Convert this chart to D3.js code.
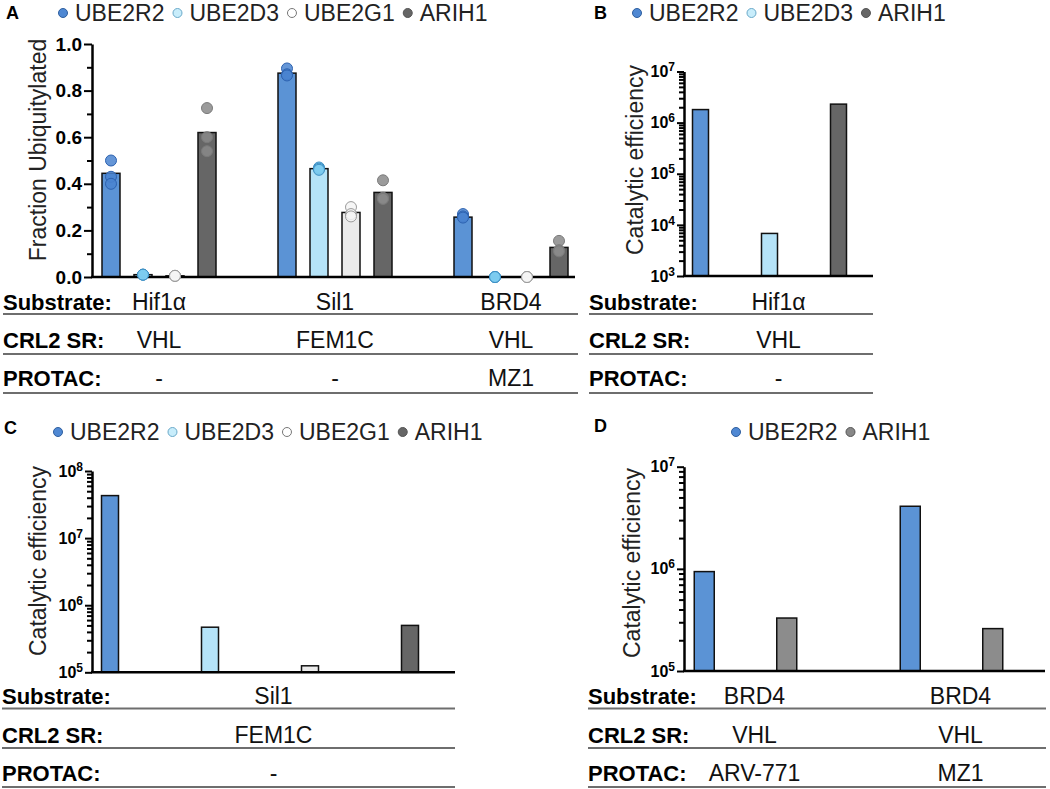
<!DOCTYPE html>
<html>
<head>
<meta charset="utf-8">
<script src="https://cdn.jsdelivr.net/npm/d3@7"></script>
<style>
  body { margin: 0; background: #fff; }
  svg { display: block; font-family: "Liberation Sans", Arial, sans-serif; }
</style>
</head>
<body>
<svg width="1050" height="789"></svg>
<script>
// ---- panel A: fraction ubiquitylated ----
const seriesA = ["UBE2R2", "UBE2D3", "UBE2G1", "ARIH1"];
const substrateA = ["Hif1α", "Sil1", "BRD4"];
const srA = ["VHL", "FEM1C", "VHL"];
const protacA = ["-", "-", "MZ1"];
const meanA = [
  [0.445, 0.01, 0.005, 0.62],
  [0.875, 0.465, 0.277, 0.363],
  [0.257, 0.0, 0.0, 0.127]
];
const repsA = [
  [[0.50, 0.43, 0.40], [0.01, 0.01, 0.01], [0.005, 0.005, 0.005], [0.725, 0.60, 0.54]],
  [[0.895, 0.87, 0.865], [0.47, 0.465, 0.46], [0.30, 0.27, 0.26], [0.415, 0.34, 0.335]],
  [[0.27, 0.26, 0.255], [0, 0, 0], [0, 0, 0], [0.155, 0.115, 0.11]]
];
const yTicksA = [0, 0.2, 0.4, 0.6, 0.8, 1.0];
const yMinorA = [0.1, 0.3, 0.5, 0.7, 0.9];

// ---- panel B ----
const seriesB = ["UBE2R2", "UBE2D3", "ARIH1"];
const effB = [1.8e6, 6.8e3, 2.3e6];
const rowsB = ["Hif1α", "VHL", "-"];
const yTicksB = [1e3, 1e4, 1e5, 1e6, 1e7];

// ---- panel C ----
const seriesC = ["UBE2R2", "UBE2D3", "UBE2G1", "ARIH1"];
const effC = [4.3e7, 4.7e5, 1.25e5, 5.0e5];
const rowsC = ["Sil1", "FEM1C", "-"];
const yTicksC = [1e5, 1e6, 1e7, 1e8];

// ---- panel D ----
const seriesD = ["UBE2R2", "ARIH1"];
const substrateD = ["BRD4", "BRD4"];
const srD = ["VHL", "VHL"];
const protacD = ["ARV-771", "MZ1"];
const effD = [[9.4e5, 3.3e5], [4.1e6, 2.6e5]];
const yTicksD = [1e5, 1e6, 1e7];

const rowLabels = ["Substrate:", "CRL2 SR:", "PROTAC:"];

// colours
const barFill = { UBE2R2: "#5b93d5", UBE2D3: "#b5e3f8", UBE2G1: "#ebebeb", ARIH1: "#666666" };
const dotFill = { UBE2R2: "#4a84d0", UBE2D3: "#7ccbf0", UBE2G1: "#f4f4f4", ARIH1: "#8a8a8a" };
const dotStroke = { UBE2R2: "#2d62b0", UBE2D3: "#3d8fc4", UBE2G1: "#9a9a9a", ARIH1: "#7a7a7a" };
const keyFill = { UBE2R2: "#4f88d3", UBE2D3: "#c8edfb", UBE2G1: "#ffffff", ARIH1: "#666666" };
const keyStroke = { UBE2R2: "#2f5f9f", UBE2D3: "#6aa9c9", UBE2G1: "#777777", ARIH1: "#555555" };

const svg = d3.select("svg");

// small helpers
function panelLetter(x, y, s) {
  svg.append("text").attr("x", x).attr("y", y).attr("dy", "0.35em")
    .attr("font-size", 18).attr("font-weight", "bold").text(s);
}

function legend(x, y, names, fills) {
  let cx = x;
  names.forEach(function (n) {
    svg.append("circle").attr("cx", cx).attr("cy", y).attr("r", 4.5)
      .attr("fill", (fills && fills[n]) || keyFill[n]).attr("stroke", keyStroke[n]).attr("stroke-width", 1);
    const t = svg.append("text").attr("x", cx + 12).attr("y", y).attr("dy", "0.35em")
      .attr("font-size", 23).attr("fill", "#222").text(n);
    cx = cx + 12 + t.node().getComputedTextLength() + 13;
  });
}

function yLabel(x, y, s) {
  svg.append("text").attr("transform", `translate(${x},${y}) rotate(-90)`)
    .attr("text-anchor", "middle").attr("dy", "0.35em")
    .attr("font-size", 23).attr("fill", "#222").text(s);
}

function hline(x0, x1, y, w, c) {
  svg.append("line").attr("x1", x0).attr("x2", x1).attr("y1", y).attr("y2", y)
    .attr("stroke", c).attr("stroke-width", w);
}

function styleAxis(a) {
  a.select(".domain").attr("stroke", "#000").attr("stroke-width", 2.5);
  a.selectAll(".tick line").attr("stroke", "#000").attr("stroke-width", 2);
  a.selectAll(".tick text").attr("fill", "#000").attr("font-weight", "bold")
    .attr("font-family", "Liberation Sans, Arial, sans-serif");
}

function logAxis(scale, x, ticks) {
  const a = svg.append("g").attr("transform", `translate(${x},0)`)
    .call(d3.axisLeft(scale).tickValues(ticks).tickSize(7).tickSizeOuter(0)
      .tickPadding(2).tickFormat(() => ""));
  styleAxis(a);
  a.selectAll(".tick text").attr("font-size", 16).each(function (d) {
    const t = d3.select(this);
    t.append("tspan").text("10");
    t.append("tspan").attr("dy", "-0.5em").attr("font-size", 12).text(Math.round(Math.log10(d)));
  });
  // minor log ticks
  const minor = [];
  for (let i = 0; i < ticks.length - 1; i++) {
    for (let m = 2; m <= 9; m++) minor.push(m * ticks[i]);
  }
  const b = svg.append("g").attr("transform", `translate(${x},0)`)
    .call(d3.axisLeft(scale).tickValues(minor).tickSize(5).tickFormat(() => ""));
  b.select(".domain").remove();
  b.selectAll(".tick line").attr("stroke", "#000").attr("stroke-width", 2);
}

function table(x0, x1, rowY, lineY, cells) {
  rowLabels.forEach(function (lab, i) {
    svg.append("text").attr("x", x0).attr("y", rowY[i]).attr("dy", "0.35em")
      .attr("font-size", 22).attr("font-weight", "bold").text(lab);
    hline(x0, x1, lineY[i], 1.8, "#6e6e6e");
    cells[i].forEach(function (c) {
      svg.append("text").attr("x", c.x).attr("y", rowY[i]).attr("dy", "0.35em")
        .attr("text-anchor", "middle").attr("font-size", 23).attr("fill", "#111").text(c.t);
    });
  });
}

function bar(x, w, y, y0, fill) {
  svg.append("rect").attr("x", x).attr("y", y).attr("width", w).attr("height", Math.max(0, y0 - y))
    .attr("fill", fill).attr("stroke", "#111").attr("stroke-width", 1.5);
}

// ================= Panel A =================
panelLetter(6, 13, "A");
legend(63, 13, seriesA);

const yA = d3.scaleLinear().domain([0, 1]).range([277, 44]);
const gxA = d3.scaleBand().domain(substrateA).range([95, 575]).paddingInner(48 / 176).paddingOuter(0);
const sxA = d3.scaleBand().domain(seriesA).range([0, gxA.bandwidth()]).paddingInner(0.4375).paddingOuter(0.21875);

substrateA.forEach(function (g, gi) {
  seriesA.forEach(function (s, si) {
    bar(gxA(g) + sxA(s), sxA.bandwidth(), yA(meanA[gi][si]), yA(0), barFill[s]);
  });
});

const axA = svg.append("g").attr("transform", "translate(92,0)")
  .call(d3.axisLeft(yA).tickValues(yTicksA).tickFormat(d3.format(".1f"))
    .tickSize(8).tickSizeOuter(0).tickPadding(2));
styleAxis(axA);
axA.selectAll(".tick text").attr("font-size", 19);
const mnA = svg.append("g").attr("transform", "translate(92,0)")
  .call(d3.axisLeft(yA).tickValues(yMinorA).tickSize(5).tickFormat(() => ""));
mnA.select(".domain").remove();
mnA.selectAll(".tick line").attr("stroke", "#000").attr("stroke-width", 2);
hline(91, 575, yA(0), 2.5, "#000");

substrateA.forEach(function (g, gi) {
  seriesA.forEach(function (s, si) {
    const cx = gxA(g) + sxA(s) + sxA.bandwidth() / 2;
    repsA[gi][si].forEach(function (v) {
      svg.append("circle").attr("cx", cx).attr("cy", yA(v)).attr("r", 5.5)
        .attr("fill", dotFill[s]).attr("fill-opacity", 0.85)
        .attr("stroke", dotStroke[s]).attr("stroke-width", 1);
    });
  });
});

yLabel(38, 150, "Fraction Ubiquitylated");

const cxA = substrateA.map(g => gxA(g) + gxA.bandwidth() / 2);
table(3, 578, [302, 340, 378], [314, 354, 393], [
  substrateA.map((t, i) => ({ t: t, x: cxA[i] })),
  srA.map((t, i) => ({ t: t, x: cxA[i] })),
  protacA.map((t, i) => ({ t: t, x: cxA[i] }))
]);

// ================= Panel B =================
panelLetter(594, 13, "B");
legend(637, 13, seriesB);

const yB = d3.scaleLog().domain([1e3, 1e7]).range([276, 71.5]);
const xB = d3.scaleBand().domain(seriesB).range([666, 873]).paddingInner(53 / 69).paddingOuter(26.5 / 69);
seriesB.forEach(function (s, i) {
  bar(xB(s), xB.bandwidth(), yB(effB[i]), yB(1e3), barFill[s]);
});
logAxis(yB, 684, yTicksB);
hline(683, 873, yB(1e3), 2.5, "#000");
yLabel(635, 160, "Catalytic efficiency");
table(589, 873, [302, 340, 378], [314, 354, 393],
  rowsB.map(t => [{ t: t, x: 778.5 }]));

// ================= Panel C =================
panelLetter(4, 428, "C");
legend(58, 432, seriesC);

const yC = d3.scaleLog().domain([1e5, 1e8]).range([672.3, 471]);
const xC = d3.scaleBand().domain(seriesC).range([60, 460]).paddingInner(0.83).paddingOuter(0.415);
seriesC.forEach(function (s, i) {
  bar(xC(s), xC.bandwidth(), yC(effC[i]), yC(1e5), barFill[s]);
});
logAxis(yC, 92, yTicksC);
hline(91, 455, yC(1e5), 2.5, "#000");
yLabel(38, 561, "Catalytic efficiency");
table(2, 455, [696, 735, 773], [708.5, 748, 787],
  rowsC.map(t => [{ t: t, x: 273.5 }]));

// ================= Panel D =================
panelLetter(594, 426, "D");
legend(736, 432, seriesD, { ARIH1: "#888888" });

const yD = d3.scaleLog().domain([1e5, 1e7]).range([671, 466.7]);
const gxD = d3.scaleBand().domain(protacD).range([663, 1034]).paddingInner(41 / 206).paddingOuter(0);
const sxD = d3.scaleBand().domain(seriesD).range([0, gxD.bandwidth()]).paddingInner(62.5 / 82.5).paddingOuter(31.25 / 82.5);
const fillD = { UBE2R2: "#5b93d5", ARIH1: "#8c8c8c" };
protacD.forEach(function (g, gi) {
  seriesD.forEach(function (s, si) {
    bar(gxD(g) + sxD(s), sxD.bandwidth(), yD(effD[gi][si]), yD(1e5), fillD[s]);
  });
});
logAxis(yD, 684, yTicksD);
hline(683, 1045, yD(1e5), 2.5, "#000");
yLabel(632, 563, "Catalytic efficiency");

const cxD = protacD.map(g => gxD(g) + gxD.bandwidth() / 2 + 9);
table(588, 1046, [696, 735, 773], [708.5, 748, 787], [
  substrateD.map((t, i) => ({ t: t, x: cxD[i] })),
  srD.map((t, i) => ({ t: t, x: cxD[i] })),
  protacD.map((t, i) => ({ t: t, x: cxD[i] }))
]);
</script>
</body>
</html>
